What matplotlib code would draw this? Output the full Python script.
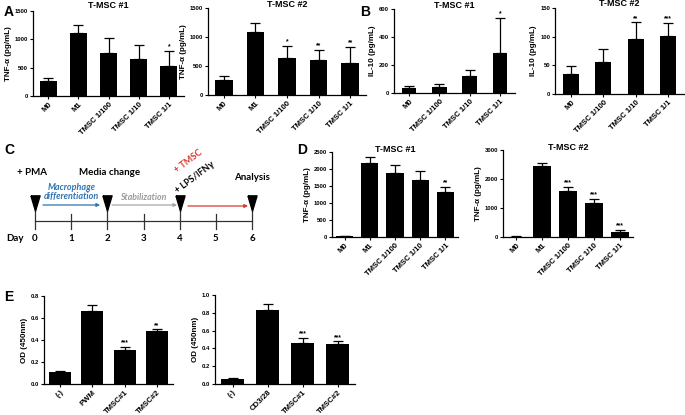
import matplotlib
matplotlib.use("Agg")
import matplotlib.pyplot as plt
import numpy as np

#%% data
a_labels = ['M0', 'M1', 'TMSC 1/100', 'TMSC 1/10', 'TMSC 1/1']
a1_mean = [270, 1120, 765, 655, 535]
a1_err = [55, 140, 260, 245, 260]
a1_sig = ['', '', '', '', '*']
a2_mean = [263, 1080, 645, 595, 555]
a2_err = [60, 155, 200, 185, 280]
a2_sig = ['', '', '*', '**', '**']

b_labels = ['M0', 'TMSC 1/100', 'TMSC 1/10', 'TMSC 1/1']
b1_mean = [35, 43, 121, 286]
b1_err = [18, 22, 46, 252]
b1_sig = ['', '', '', '*']
b2_mean = [35, 56, 96, 101]
b2_err = [14, 23, 29, 23]
b2_sig = ['', '', '**', '***']

d_labels = a_labels
d1_mean = [15, 2175, 1895, 1690, 1325]
d1_err = [15, 165, 220, 265, 150]
d1_sig = ['', '', '', '', '**']
d2_mean = [15, 2445, 1590, 1185, 185]
d2_err = [15, 115, 140, 140, 70]
d2_sig = ['', '', '***', '***', '***']

e1_labels = ['(-)', 'PWM', 'TMSC#1', 'TMSC#2']
e1_mean = [0.105, 0.665, 0.305, 0.478]
e1_err = [0.01, 0.05, 0.03, 0.02]
e1_sig = ['', '', '***', '**']
e2_labels = ['(-)', 'CD3/28', 'TMSC#1', 'TMSC#2']
e2_mean = [0.058, 0.835, 0.465, 0.45]
e2_err = [0.005, 0.06, 0.055, 0.03]
e2_sig = ['', '', '***', '***']

# timeline
days = [0, 1, 2, 3, 4, 5, 6]
event_days = [0, 2, 4, 6]

#%% setup
plt.rcParams['font.family'] = ['Liberation Sans', 'DejaVu Sans']
plt.rcParams['font.weight'] = 'bold'
plt.rcParams['axes.labelweight'] = 'bold'

W, H = 685, 415
fig = plt.figure(figsize=(W / 100, H / 100), dpi=100)


def px_axes(l, t, r, b):
    return fig.add_axes([l / W, 1 - b / H, (r - l) / W, (b - t) / H])


def bar_panel(box, labels, mean, err, sig, ymax, step, ylabel, title=None,
              title_dy=4, width=0.56, fmt='%d'):
    ax = px_axes(*box)
    x = np.arange(len(labels))
    ax.bar(x, mean, width=width, color='black', zorder=2)
    ax.errorbar(x, mean, yerr=[np.zeros(len(err)), err], fmt='none',
                ecolor='black', elinewidth=0.9, capsize=3.5, capthick=0.9, zorder=1)
    for xi, m, e, s in zip(x, mean, err, sig):
        if s:
            ax.text(xi, m + e + ymax * 0.005, s, ha='center', va='bottom',
                    fontsize=4.8, fontweight='bold')
    ax.set_xlim(-0.5, len(labels) - 0.5)
    ax.set_ylim(0, ymax)
    ticks = np.arange(0, ymax + step / 2, step)
    ax.set_yticks(ticks)
    ax.set_yticklabels([fmt % t for t in ticks], fontsize=4.2)
    ax.set_xticks(x)
    ax.set_xticklabels(labels, rotation=45, ha='right', rotation_mode='anchor',
                       fontsize=5.6)
    ax.set_ylabel(ylabel, fontsize=5.8, labelpad=2)
    if title:
        ax.annotate(title, xy=(0.5, 1), xycoords='axes fraction',
                    xytext=(0, title_dy * 0.72), textcoords='offset points',
                    ha='center', va='center', fontsize=6.5, fontweight='bold')
    for sp in ['top', 'right']:
        ax.spines[sp].set_visible(False)
    for sp in ['left', 'bottom']:
        ax.spines[sp].set_linewidth(0.9)
    ax.tick_params(axis='both', direction='out', length=2, width=0.8, pad=1.5)
    return ax


tnf = u'TNF-\u03b1 (pg/mL)'
il10 = 'IL-10 (pg/mL)'
od = 'OD (450nm)'

bar_panel((33, 11, 184, 96), a_labels, a1_mean, a1_err, a1_sig, 1500, 500, tnf,
          'T-MSC #1', title_dy=5)
bar_panel((208, 8, 366, 95), a_labels, a2_mean, a2_err, a2_sig, 1500, 500, tnf,
          'T-MSC #2', title_dy=3)
bar_panel((394, 9, 515, 93), b_labels, b1_mean, b1_err, b1_sig, 600, 200, il10,
          'T-MSC #1', title_dy=4, width=0.48)
bar_panel((555, 8, 684, 94), b_labels, b2_mean, b2_err, b2_sig, 150, 50, il10,
          'T-MSC #2', title_dy=4, width=0.5)
bar_panel((332, 152, 458, 237), d_labels, d1_mean, d1_err, d1_sig, 2500, 500, tnf,
          'T-MSC #1', title_dy=2, width=0.68)
bar_panel((503, 150, 633, 237), d_labels, d2_mean, d2_err, d2_sig, 3000, 1000, tnf,
          'T-MSC #2', title_dy=3, width=0.68)
bar_panel((44, 296, 173, 384), e1_labels, e1_mean, e1_err, e1_sig, 0.8, 0.2, od,
          width=0.68, fmt='%.1f')
bar_panel((215, 295, 355, 384), e2_labels, e2_mean, e2_err, e2_sig, 1.0, 0.2, od,
          width=0.64, fmt='%.1f')

#%% panel C timeline
axc = px_axes(0, 140, 300, 250)
ppd = (252 - 35) / 6.0
axc.set_xlim(-35 / ppd, (300 - 35) / ppd)
axc.set_ylim(250, 140)
axc.axis('off')
tl = ['Lato', 'DejaVu Sans']

axc.plot([days[0], days[-1]], [221, 221], color='#333333', lw=0.9)
for d in days:
    top = 206 if d in event_days else 214
    axc.plot([d, d], [top, 229], color='#333333', lw=0.9)
    axc.text(d, 238, str(d), ha='center', va='center', fontsize=7, family=tl,
             fontweight='bold')
axc.text(-0.55, 238, 'Day', ha='center', va='center', fontsize=7, family=tl,
         fontweight='bold')
tri = [(-0.6, 1), (0.6, 1), (0, -1), (-0.6, 1)]
axc.plot(event_days, [203] * len(event_days), linestyle='none', marker=tri,
         markersize=11, color='black')

axc.text(-0.5, 172, '+ PMA', ha='left', va='center', fontsize=7, family=tl,
         fontweight='bold')
axc.text(2.07, 172, 'Media change', ha='center', va='center', fontsize=7, family=tl,
         fontweight='bold')
axc.text(6.0, 177, 'Analysis', ha='center', va='center', fontsize=7, family=tl,
         fontweight='bold')
axc.text(1.0, 192, 'Macrophage\ndifferentiation', ha='center', va='center',
         fontsize=6.5, family=tl, fontweight='bold', style='italic',
         color='#2f74b5', linespacing=1.0)
axc.text(3.0, 197, 'Stabilization', ha='center', va='center', fontsize=6.3,
         family=tl, fontweight='bold', style='italic', color='#9a9a9a')
arrows = [(0.22, 1.8, 205, '#2f74b5'), (2.13, 3.93, 205, '#a6a6a6'),
          (4.23, 5.89, 206, '#d63a2f')]
for x0, x1, y, c in arrows:
    axc.annotate('', xy=(x1, y), xytext=(x0, y),
                 arrowprops=dict(arrowstyle='-|>', color=c, lw=0.9,
                                 mutation_scale=5, shrinkA=0, shrinkB=0))
axc.text(3.97, 195, u'+ LPS/IFN\u03b3', ha='left', va='bottom', rotation=37,
         rotation_mode='anchor', fontsize=6.5, family=tl, fontweight='bold')
axc.text(3.97, 175, '+ TMSC', ha='left', va='bottom', rotation=37,
         rotation_mode='anchor', fontsize=6.5, family=tl, fontweight='bold',
         color='#d63a2f')

#%% panel letters
for letter, x, y in [('A', 4, 12), ('B', 360, 12), ('C', 4, 150), ('D', 297, 150),
                     ('E', 4, 297)]:
    fig.text(x / W, 1 - y / H, letter, fontsize=10, fontweight='bold',
             ha='left', va='center')

fig.savefig('out.png', dpi=100)
